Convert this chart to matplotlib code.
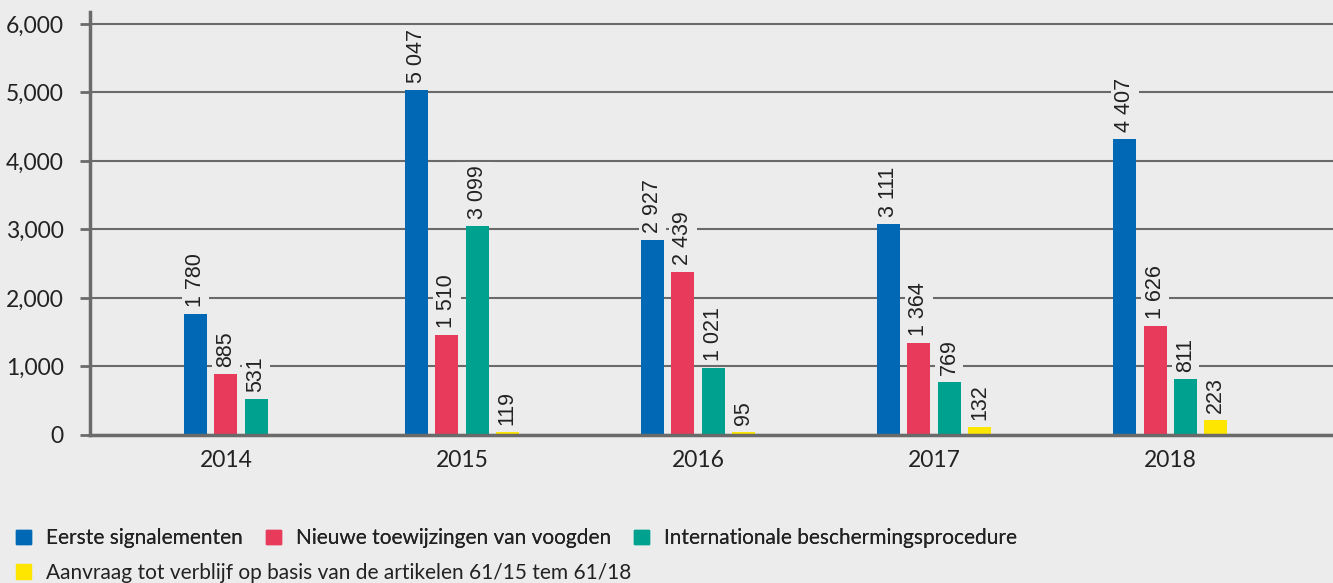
import matplotlib.pyplot as plt
import numpy as np

# data
years = ["2014", "2015", "2016", "2017", "2018"]
series = [
    "Eerste signalementen",
    "Nieuwe toewijzingen van voogden",
    "Internationale beschermingsprocedure",
    "Aanvraag tot verblijf op basis van de artikelen 61/15 tem 61/18",
]
colors = ["#0068b4", "#e83a5a", "#00a28f", "#ffe600"]

# bar heights as drawn
eerste = [1766, 5036, 2847, 3080, 4321]
voogden = [890, 1460, 2380, 1343, 1591]
internationaal = [525, 3051, 978, 774, 818]
aanvraag = [np.nan, 44, 40, 117, 219]

# printed labels
eerste_lbl = ["1 780", "5 047", "2 927", "3 111", "4 407"]
voogden_lbl = ["885", "1 510", "2 439", "1 364", "1 626"]
internationaal_lbl = ["531", "3 099", "1 021", "769", "811"]
aanvraag_lbl = ["", "119", "95", "132", "223"]

values = [eerste, voogden, internationaal, aanvraag]
labels = [eerste_lbl, voogden_lbl, internationaal_lbl, aanvraag_lbl]

bg = "#ececec"
grey = "#6a6a6a"
txt = "#222222"

fig = plt.figure(figsize=(13.33, 5.83), dpi=100, facecolor=bg)
ax = fig.add_axes([0.0675, 0.2539, 0.9325, 0.7255])
ax.set_facecolor(bg)

width = 0.0975
pitch = 0.128
for i, year in enumerate(years):
    present = [s for s in range(len(series)) if not np.isnan(values[s][i])]
    n = len(present)
    for k, s in enumerate(present):
        x = i + (k - (n - 1) / 2) * pitch
        v = values[s][i]
        ax.bar(x, v, width=width, color=colors[s], zorder=3)
        ax.annotate(labels[s][i], (x, v), xytext=(0, 5), textcoords="offset points",
                    rotation=90, ha="center", va="bottom", fontsize=15.5,
                    family="Liberation Sans", color=txt, zorder=4,
                    annotation_clip=False,
                    bbox=dict(boxstyle="square,pad=0.15", fc=bg, ec="none"))

ax.set_xlim(-0.576, 4.69)
ax.set_ylim(0, 6175)
ax.set_yticks(range(0, 7000, 1000))
ax.set_yticklabels([f"{t:,}" for t in range(0, 7000, 1000)], family="Lato",
                   fontsize=16.5, color=txt)
ax.set_xticks(range(len(years)))
ax.set_xticklabels(years, family="Lato", fontsize=16.5, color=txt)
ax.tick_params(axis="y", length=7, width=2, color=grey, pad=12)
ax.tick_params(axis="x", length=0, pad=11)
ax.grid(axis="y", color=grey, linewidth=1.5, zorder=1)
ax.set_axisbelow(True)
for side in ["top", "right"]:
    ax.spines[side].set_visible(False)
ax.spines["left"].set_color(grey)
ax.spines["left"].set_linewidth(2.5)
ax.spines["bottom"].set_color(grey)
ax.spines["bottom"].set_linewidth(2.5)
ax.spines["bottom"].set_zorder(5)

handles = [plt.Rectangle((0, 0), 1, 1, color=c) for c in colors]
legend_font = {"family": "Lato", "size": 15}
leg1 = fig.legend(handles[:3], series[:3], loc="center left", bbox_to_anchor=(-0.002, 0.077),
                  ncol=3, frameon=False, prop=legend_font, labelcolor=txt,
                  handlelength=0.7, handleheight=0.7, handletextpad=0.75, columnspacing=1.1)
leg2 = fig.legend(handles[3:], series[3:], loc="center left", bbox_to_anchor=(-0.002, 0.018),
                  frameon=False, prop=legend_font, labelcolor=txt,
                  handlelength=0.7, handleheight=0.7, handletextpad=0.75)
fig.add_artist(leg1)

fig.savefig("out.png", dpi=100, facecolor=bg)
